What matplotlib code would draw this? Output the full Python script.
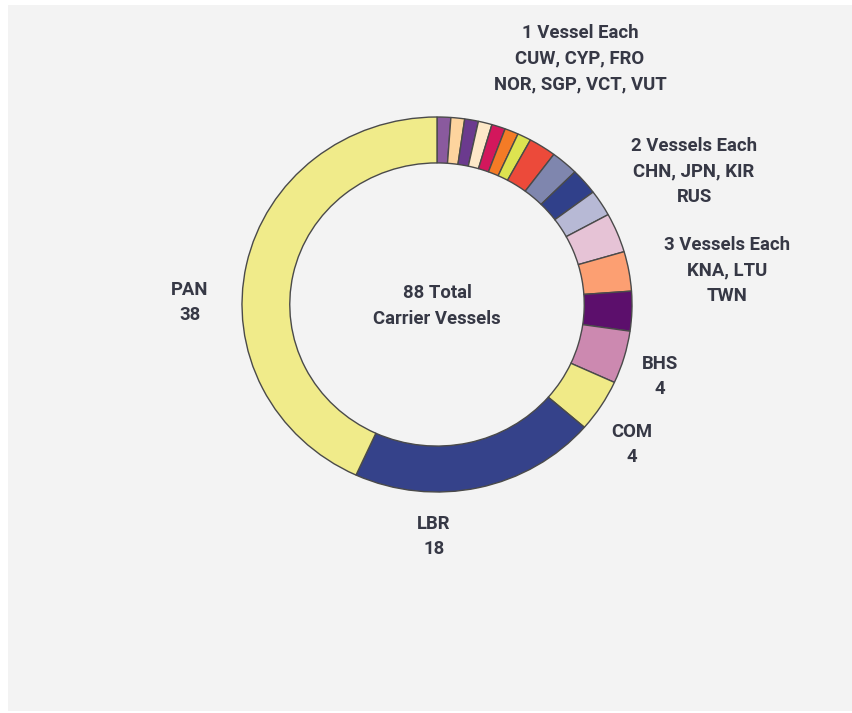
import matplotlib
matplotlib.use("Agg")
import matplotlib.pyplot as plt
from matplotlib.patches import Rectangle

# flag states and vessel counts, clockwise from 12 o'clock
flags = ["CUW", "CYP", "FRO", "NOR", "SGP", "VCT", "VUT",
         "CHN", "JPN", "KIR", "RUS",
         "KNA", "LTU", "TWN",
         "BHS", "COM", "LBR", "PAN"]
vessels = [1, 1, 1, 1, 1, 1, 1,
           2, 2, 2, 2,
           3, 3, 3,
           4, 4, 18, 38]
colors = ["#8a5a9e", "#fdd49e", "#6b3a8e", "#fde8c8", "#d3175c", "#f47b26", "#dde350",
          "#ec4a3a", "#7f86ae", "#30408a", "#b7b9d5",
          "#e6c3d6", "#fc9f72", "#5c0f6c",
          "#cc89b0", "#f0ea87", "#35428a", "#f0eb8a"]

total = sum(vessels)
group_labels = [
    (580, 33, ["1 Vessel Each", "CUW, CYP, FRO", "NOR, SGP, VCT, VUT"]),
    (694, 146, ["2 Vessels Each", "CHN, JPN, KIR", "RUS"]),
    (727, 245, ["3 Vessels Each", "KNA, LTU", "TWN"]),
]
single_labels = ["BHS", "COM", "LBR", "PAN"]
single_pos = [(660, 364), (632, 432), (434, 524), (190, 290)]

W, H = 852, 713
bg = "#f3f3f3"
txt = "#363845"

fig = plt.figure(figsize=(W / 100, H / 100), dpi=100, facecolor="white")
fig.patches.append(Rectangle((8 / W, 2 / H), 1, 1 - 7 / H, transform=fig.transFigure,
                             facecolor=bg, edgecolor="none", zorder=-10))

ax = fig.add_axes([0, 0, 1, 1])
ax.pie(vessels, colors=colors, startangle=90, counterclock=False,
       wedgeprops=dict(width=0.245, edgecolor="#4a4a4a", linewidth=1.0))
# slightly wider than tall, as in the reference
cx, cy, rx, ry = 437, 304.5, 195, 187.5
ax.set_aspect("auto")
ax.set_xlim(-cx / rx, (W - cx) / rx)
ax.set_ylim((cy - H) / ry, cy / ry)
ax.axis("off")
ax.patch.set_alpha(0)

font = dict(family="Roboto", fontweight="bold", fontsize=13.3, color=txt,
            ha="center", va="center")

def put(x, y, lines):
    for i, s in enumerate(lines):
        fig.text(x / W, 1 - (y + 25.5 * i) / H, s, **font)

for x, y, lines in group_labels:
    put(x, y, lines)
for name, (x, y) in zip(single_labels, single_pos):
    put(x, y, [name, str(vessels[flags.index(name)])])
put(437, 293, [f"{total} Total", "Carrier Vessels"])

fig.savefig("out.png", dpi=100, facecolor=fig.get_facecolor())
